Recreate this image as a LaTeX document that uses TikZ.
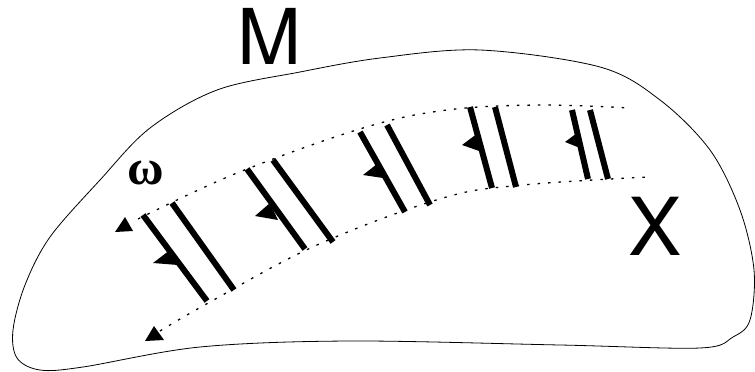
\documentclass[tikz,border=0pt]{standalone}
\usepackage{amsmath,amssymb}
\usepackage{fontspec}
\newfontfamily\helv{TeX Gyre Heros}
\newfontfamily\tms{Liberation Serif}
\usetikzlibrary{positioning,calc}

\begin{document}
\begin{tikzpicture}[
    x=1pt, y=-1pt,
    outline/.style={line width=0.8pt},
    dotline/.style={line width=1.3pt, dash pattern=on 2.5pt off 8pt},
    bar/.style={line width=6pt},
    tip/.style={fill=black},
    biglabel/.style={inner sep=0pt, font=\helv}
]
\useasboundingbox (0,0) rectangle (755,372);

% the manifold M
\draw[outline] plot[smooth cycle, tension=0.55] coordinates {
    (13,330) (25,285) (50,237) (100,180) (150,128) (217,90) (300,72)
    (380,58) (480,50) (600,67) (660,100) (710,150) (740,210) (754,270)
    (750,320) (733,337) (700,348) (560,345) (350,341) (200,347)
    (83,367) (40,370) (17,358)};

% the two dotted curves bounding the strip
\draw[dotline] plot[smooth, tension=0.6] coordinates {
    (138,219) (237,173) (363,128) (447,110) (540,105) (630,108)};
\draw[dotline] plot[smooth, tension=0.6] coordinates {
    (160,331) (210,302) (317,245) (443,198) (523,185) (648,177)};
\fill[tip] (125,217) -- (115,232) -- (133,231) -- cycle;
\fill[tip] (154,326) -- (145,341) -- (164,340) -- cycle;

% pairs of bars with their barbs
\foreach \lt/\lb/\rt/\rb/\bt/\bp/\bb in {
    {(143,215)}/{(207,301)}/{(172,203)}/{(234,290)}/{(170,250)}/{(153,263)}/{(178,265)},
    {(247,169)}/{(305,249)}/{(273,160)}/{(333,242)}/{(270,203)}/{(255,216)}/{(278,220)},
    {(360,132)}/{(405,212)}/{(387,125)}/{(430,205)}/{(377,164)}/{(363,175)}/{(383,178)},
    {(470,107)}/{(492,188)}/{(495,107)}/{(516,187)}/{(478,133)}/{(462,145)}/{(482,152)},
    {(572,110)}/{(588,179)}/{(590,110)}/{(608,179)}/{(577,133)}/{(565,142)}/{(580,148)}}
{
    \draw[bar] \lt -- \lb;
    \draw[bar] \rt -- \rb;
    \fill[tip] \bt -- \bp -- \bb -- cycle;
}

\node[biglabel, font=\helv\fontsize{77}{77}\selectfont] (m) at (270,36) {M};
\node[biglabel, font=\helv\fontsize{80}{80}\selectfont] (x) at (655,226) {X};
\node[inner sep=0pt, font=\tms\bfseries\fontsize{50}{50}\selectfont] (omega) at (146,173) {ω};
\end{tikzpicture}
\end{document}
